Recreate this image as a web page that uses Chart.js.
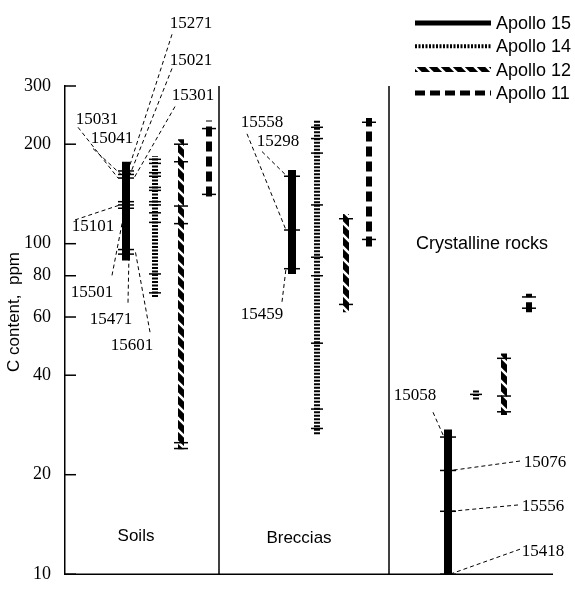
<!DOCTYPE html>
<html>
<head>
<meta charset="utf-8">
<script src="https://cdn.jsdelivr.net/npm/chart.js@4.4.1/dist/chart.umd.min.js"></script>
<style>
body { margin: 0; background: #fff; }
</style>
</head>
<body>
<canvas id="myChart" width="575" height="591"></canvas>
<script>
const groups = ['Soils', 'Breccias', 'Crystalline rocks']
const missions = ['Apollo 15', 'Apollo 14', 'Apollo 12', 'Apollo 11']

// C content range, ppm  (soils, breccias, crystalline rocks)
const a15Range = [[89, 177], [81, 167], [10, 27.4]]
const a14Range = [[69, 184], [26.5, 236], [33.8, 36]]
const a12Range = [[23.9, 207], [62, 123], [30.3, 46.5]]
const a11Range = [[139, 236], [98, 240], [62, 70.5]]

// single samples, drawn as tick marks on the bars
const a15Samples = [[166, 162, 158, 134, 131, 128, 96, 93], [160, 110, 84], [26, 20.6, 15.5, 10]]
const a14Samples = [[180, 175, 164, 160, 148, 145, 134, 131, 124, 116, 81, 71], [225, 208, 188, 131, 91, 80, 50, 31.6, 27.6], [35]]
const a12Samples = [[200, 177, 130, 115, 25, 24], [119, 65.5], [45, 34.6, 31]]
const a11Samples = [[223, 141], [233, 103], [69, 63.8]]

const yTicks = [10, 20, 40, 60, 80, 100, 200, 300]

// Apollo 15 samples that get a number
const sampleIds = ['15271', '15021', '15301', '15031', '15041', '15101', '15501', '15471', '15601',
  '15558', '15298', '15459', '15058', '15076', '15556', '15418']
const sampleValues = [166, 162, 158, 158, 162, 131, 128, 93, 96, 110, 160, 84, 26, 20.6, 15.5, 10]

// ---- layout (x in slot units 0..49, y in ppm) ----
const slots = [[6.1, 22.7, 38.3], [9.0, 25.2, 41.1], [11.6, 28.1, 43.9], [14.4, 30.4, 46.4]]
const dividers = [15.4, 32.4]
const groupLabelAt = [[7.1, 13.0], [23.4, 12.8], [41.7, 99.7]]
// [label x, label y, leader from x, from y, leader to x]
const sampleLabelAt = [
  [12.6, 464, 10.7, 430, 6.3], [12.6, 358, 10.7, 339, 6.5], [12.8, 280, 11.0, 260, 6.9],
  [3.2, 238, 1.3, 225, 5.3], [4.7, 208, 2.8, 194, 5.6], [2.8, 113, 1.0, 118, 5.5],
  [2.7, 71.4, 4.7, 80.2, 6.0], [4.6, 59, 6.3, 66.3, 6.4], [6.7, 49.1, 8.5, 54.0, 7.0],
  [19.7, 233, 18.2, 215, 22.1], [21.3, 204, 19.7, 190, 22.2], [19.7, 61.1, 21.7, 66.7, 22.1],
  [35.0, 34.7, 36.8, 30.9, 37.9], [48.0, 21.7, 45.5, 22.0, 38.6], [47.8, 16.0, 45.3, 16.2, 38.6],
  [47.8, 11.7, 45.5, 11.9, 38.5]
]

// slanted hatch for the Apollo 12 bars
function slantPattern() {
  let c = document.createElement('canvas')
  c.width = 12; c.height = 12
  let g = c.getContext('2d')
  g.fillStyle = '#000'
  g.fillRect(0, 0, 12, 12)
  g.strokeStyle = '#fff'
  g.lineWidth = 2.6
  g.beginPath()
  g.moveTo(-1, -1); g.lineTo(13, 13)
  g.moveTo(-13, -1); g.lineTo(1, 13)
  g.moveTo(11, -1); g.lineTo(25, 13)
  g.stroke()
  return document.createElement('canvas').getContext('2d').createPattern(c, 'repeat')
}
const hatch = slantPattern()

const styles = [
  {color: '#000', width: 8, dash: [], tick: 8, legW: 5},
  {color: '#000', width: 6, dash: [2, 1.5], tick: 6, legW: 4},
  {color: hatch, width: 6, dash: [], tick: 7, legW: 5},
  {color: '#000', width: 6, dash: [10, 5], tick: 7, legW: 5}
]

const ranges = [a15Range, a14Range, a12Range, a11Range]
const samples = [a15Samples, a14Samples, a12Samples, a11Samples]

const datasets = []
missions.forEach(function(m, i) {
  let bar = []
  let pts = []
  for (let g = 0; g < groups.length; g++) {
    bar.push({x: slots[i][g], y: ranges[i][g][0]})
    bar.push({x: slots[i][g], y: ranges[i][g][1]})
    bar.push({x: slots[i][g], y: null})
    samples[i][g].forEach(v => pts.push({x: slots[i][g], y: v}))
  }
  datasets.push({
    type: 'line', label: m, data: bar, order: 2,
    borderColor: styles[i].color, borderWidth: styles[i].width, borderDash: styles[i].dash,
    borderCapStyle: 'butt', pointRadius: 0, spanGaps: false, clip: false
  })
  datasets.push({
    type: 'scatter', label: m + ' samples', data: pts, order: 1,
    pointStyle: 'line', radius: styles[i].tick, borderColor: '#000', borderWidth: 1.5, clip: false
  })
})

const extras = {
  id: 'extras',
  afterDraw(chart) {
    const ctx = chart.ctx, xs = chart.scales.x, ys = chart.scales.y, a = chart.chartArea
    ctx.save()
    ctx.strokeStyle = '#000'
    ctx.fillStyle = '#000'

    // inward ticks on the y axis
    ctx.lineWidth = 1.5
    yTicks.forEach(function(v) {
      let y = ys.getPixelForValue(v)
      ctx.beginPath(); ctx.moveTo(a.left, y); ctx.lineTo(a.left + 11, y); ctx.stroke()
    })
    // bottom line
    ctx.beginPath(); ctx.moveTo(a.left, a.bottom); ctx.lineTo(a.right - 2, a.bottom); ctx.stroke()
    // panel dividers
    dividers.forEach(function(d) {
      let x = xs.getPixelForValue(d)
      ctx.beginPath(); ctx.moveTo(x, ys.getPixelForValue(300)); ctx.lineTo(x, a.bottom); ctx.stroke()
    })

    // leader lines
    ctx.lineWidth = 1
    ctx.setLineDash([4, 3])
    sampleLabelAt.forEach(function(p, k) {
      ctx.beginPath()
      ctx.moveTo(xs.getPixelForValue(p[2]), ys.getPixelForValue(p[3]))
      ctx.lineTo(xs.getPixelForValue(p[4]), ys.getPixelForValue(sampleValues[k]))
      ctx.stroke()
    })
    ctx.setLineDash([])

    // sample numbers
    ctx.font = '17px "Liberation Serif"'
    ctx.textAlign = 'center'
    ctx.textBaseline = 'middle'
    sampleLabelAt.forEach(function(p, k) {
      ctx.fillText(sampleIds[k], xs.getPixelForValue(p[0]), ys.getPixelForValue(p[1]))
    })

    // group names
    ctx.font = '17px "Liberation Sans"'
    groups.forEach(function(g, k) {
      if (k == 2) ctx.font = '18px "Liberation Sans"'
      ctx.fillText(g, xs.getPixelForValue(groupLabelAt[k][0]), ys.getPixelForValue(groupLabelAt[k][1]))
    })

    // axis title
    ctx.save()
    ctx.translate(14, 312)
    ctx.rotate(-Math.PI / 2)
    ctx.font = '17px "Liberation Sans"'
    ctx.fillText('C content,  ppm', 0, 0)
    ctx.restore()

    // legend
    ctx.font = '18px "Liberation Sans"'
    ctx.textAlign = 'left'
    missions.forEach(function(m, i) {
      let y = 23 + i * 23.3
      ctx.strokeStyle = styles[i].color
      ctx.lineWidth = styles[i].legW
      ctx.setLineDash(styles[i].dash)
      ctx.beginPath(); ctx.moveTo(415, y); ctx.lineTo(491, y); ctx.stroke()
      ctx.setLineDash([])
      ctx.fillText(m, 496, y + 1)
    })
    ctx.restore()
  }
}

new Chart(document.getElementById('myChart'), {
  data: {datasets: datasets},
  options: {
    responsive: false,
    animation: false,
    layout: {padding: {top: 86, right: 20, bottom: 5, left: 0}},
    plugins: {legend: {display: false}, tooltip: {enabled: false}},
    scales: {
      x: {type: 'linear', display: false, min: 0, max: 49},
      y: {
        type: 'logarithmic', min: 10, max: 300,
        afterBuildTicks: function(scale) { scale.ticks = yTicks.map(v => ({value: v})) },
        afterFit: function(scale) { scale.width = 65 },
        grid: {display: false},
        border: {display: true, color: '#000', width: 1.5},
        ticks: {
          color: '#000', padding: 6,
          font: {family: 'Liberation Serif', size: 18},
          callback: v => String(v)
        }
      }
    }
  },
  plugins: [extras]
})
</script>
</body>
</html>
